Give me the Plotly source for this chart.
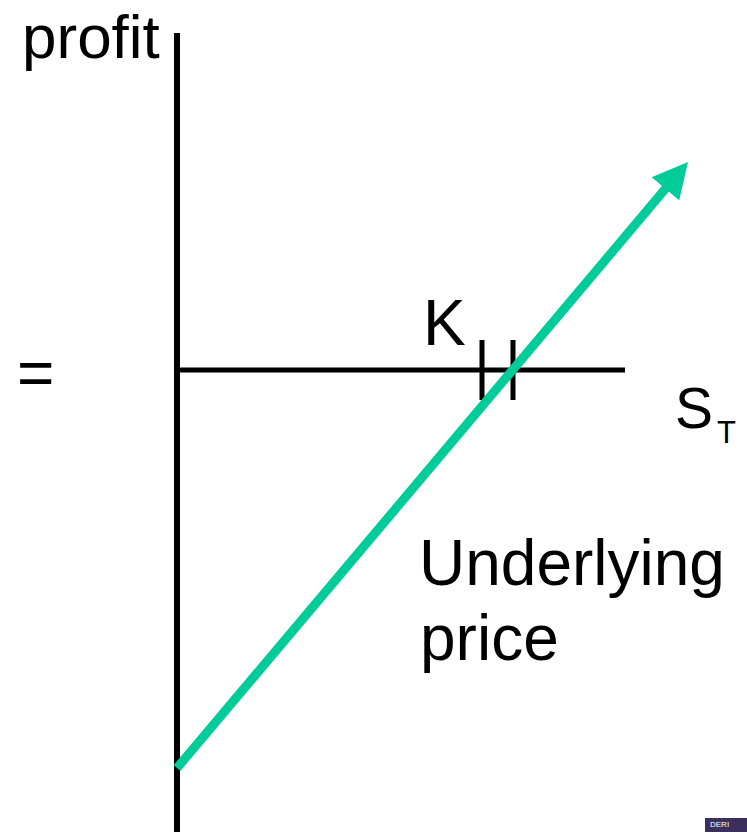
import math
import plotly.graph_objects as go

# ---- data (1 unit = 10 px on both axes) ----
axis_top = 33.7          # top of the profit axis
axis_bottom = -46.2      # profit axis runs to bottom of chart
s_max = 44.8             # extent of S_T axis
k_ticks = [30.5, 33.6]   # the two K tick positions
tick_half = 3.0
payoff_s = [0.0, 51.1]   # underlying price at start / tip of arrow
payoff_p = [-39.8, 20.8] # profit at start / tip of arrow

GREEN = "#00CC99"
FONT = "Liberation Sans, Arial, sans-serif"

fig = go.Figure()

# vertical profit axis
fig.add_trace(go.Scatter(x=[0, 0], y=[axis_top, axis_bottom], mode="lines",
                         line=dict(color="black", width=6), hoverinfo="skip"))
# horizontal S_T axis
fig.add_trace(go.Scatter(x=[0, s_max], y=[0, 0], mode="lines",
                         line=dict(color="black", width=5), hoverinfo="skip"))
# K ticks
for k in k_ticks:
    fig.add_trace(go.Scatter(x=[k, k], y=[tick_half, -tick_half], mode="lines",
                             line=dict(color="black", width=5), hoverinfo="skip"))

# payoff line with arrow head
dx = payoff_s[1] - payoff_s[0]
dy = payoff_p[1] - payoff_p[0]
L = math.hypot(dx, dy)
ux, uy = dx / L, dy / L
head_len, head_half = 3.5, 1.8
bx = payoff_s[1] - ux * head_len
by = payoff_p[1] - uy * head_len
fig.add_trace(go.Scatter(x=[payoff_s[0], bx + ux * 0.3], y=[payoff_p[0], by + uy * 0.3],
                         mode="lines", line=dict(color=GREEN, width=9), hoverinfo="skip"))
fig.add_trace(go.Scatter(
    x=[payoff_s[1], bx - uy * head_half, bx + uy * head_half, payoff_s[1]],
    y=[payoff_p[1], by + ux * head_half, by - ux * head_half, payoff_p[1]],
    mode="lines", fill="toself", fillcolor=GREEN, line=dict(width=0, color=GREEN),
    hoverinfo="skip"))

def px_x(p):
    return (p - 177) / 10.0

def px_y(p):
    return (370 - p) / 10.0

def label(text, x, y, size, anchor="left"):
    fig.add_annotation(x=px_x(x), y=px_y(y), text=text, showarrow=False,
                       xanchor=anchor, yanchor="middle",
                       font=dict(family=FONT, size=size, color="black"))

label("profit", 20, 36, 62)
label("=", 15, 373, 64)
label("K", 421, 323, 64)
label("S", 673, 408, 57)
label("T", 715, 432, 31)
label("Underlying", 417, 563, 64)
label("price", 418, 638, 64)

# small logo fragment in bottom-right corner
fig.add_shape(type="rect", xref="paper", yref="paper",
              x0=705 / 747, x1=1.0, y0=0, y1=14 / 832,
              fillcolor="#3b2f5c", line=dict(width=0))
fig.add_annotation(xref="paper", yref="paper", x=708 / 747, y=1 / 832, text="DERI",
                   showarrow=False, xanchor="left", yanchor="bottom",
                   font=dict(family=FONT, size=8, color="white"))

fig.update_layout(
    width=747, height=832,
    margin=dict(l=0, r=0, t=0, b=0),
    paper_bgcolor="white", plot_bgcolor="white",
    showlegend=False,
    xaxis=dict(range=[px_x(0), px_x(747)], visible=False, fixedrange=True),
    yaxis=dict(range=[px_y(832), px_y(0)], visible=False, fixedrange=True),
)

fig.write_html("out.html", config={"displayModeBar": False},
               post_script="document.body.style.margin='0';document.body.style.overflow='hidden';")
